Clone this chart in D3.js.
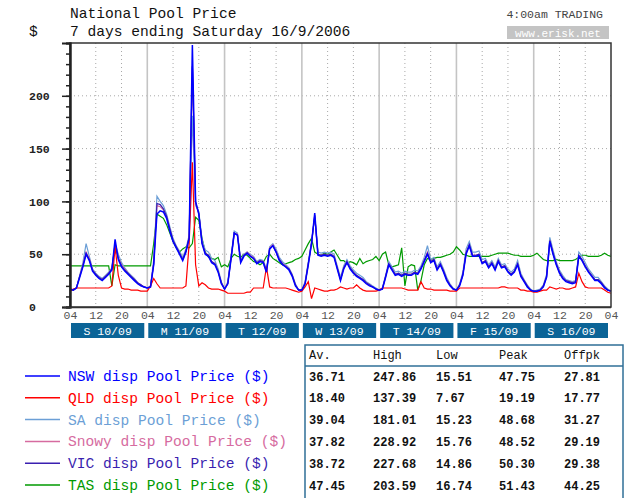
<!DOCTYPE html>
<html>
<head>
<meta charset="utf-8">
<script src="https://cdnjs.cloudflare.com/ajax/libs/d3/7.8.5/d3.min.js"></script>
<style>
  html, body { margin: 0; padding: 0; background: #fff; }
  svg { display: block; font-family: "Liberation Mono", "DejaVu Sans Mono", monospace; }
</style>
</head>
<body>
<svg id="chart" width="625" height="498"></svg>
<script>
// hourly prices, Sun 10/09/2006 04:00 .. Sun 17/09/2006 04:00 (169 points)
const nsw = [
  17,16,18,28,38,50,44,34,30,27,25,28,31,35,64,45,38,34,31,28,25,22,20,19,
  18,19,40,88,91,90,84,72,62,56,50,44,52,65,248,100,88,60,50,48,42,40,33,22,
  17,22,45,70,68,42,48,51,48,46,41,43,42,33,55,58,52,44,40,38,35,29,20,16,
  16,22,40,60,89,49,48,49,48,49,47,36,25,36,42,36,32,29,27,25,22,20,19,17,
  16,17,28,40,35,30,31,29,31,30,30,32,31,36,43,50,42,44,35,40,33,25,20,17,
  16,20,30,50,58,48,48,49,41,43,37,41,35,43,37,38,33,30,33,40,29,24,19,16,
  15,15,16,19,28,62,50,40,32,27,24,23,22,23,48,44,38,33,29,25,25,22,18,16,15
]
const qld = [
  15,17,18,18,18,18,18,18,18,18,18,18,18,20,57,30,18,17,17,16,16,16,15,15,
  15,20,27,22,18,18,18,18,18,18,18,18,20,60,137,40,20,23,21,18,17,17,17,16,
  15,13,13,13,13,13,13,14,14,18,18,18,18,38,19,18,18,18,18,18,17,16,15,14,
  15,19,24,8,18,17,16,15,15,16,16,17,19,18,17,18,18,21,18,16,15,15,15,15,
  16,18,18,18,18,18,18,18,17,16,16,16,16,24,18,17,17,16,16,16,16,16,15,15,
  15,18,18,18,18,18,18,18,18,18,18,18,18,18,19,19,18,18,18,18,16,16,15,15,
  14,14,15,16,16,19,18,17,18,18,17,17,18,19,32,24,19,18,18,18,18,18,16,14,13
]
const sa = [
  17,16,18,30,42,60,48,36,32,29,27,30,33,37,60,50,42,37,33,30,27,23,21,19,
  18,20,45,105,100,96,88,76,65,58,53,47,55,68,181,96,90,64,54,52,46,44,36,24,
  17,24,48,72,70,45,50,52,50,48,43,45,44,36,57,60,55,47,43,40,37,31,22,16,
  16,24,43,62,85,52,51,52,51,52,50,39,28,39,45,39,35,32,30,28,24,22,20,18,
  16,18,30,43,38,33,34,32,34,33,33,35,34,39,47,58,45,47,38,43,36,28,22,18,
  16,22,33,55,62,52,52,53,45,46,40,44,38,46,40,41,36,33,36,44,32,26,21,17,
  15,16,17,21,31,66,54,43,35,30,26,25,24,25,52,48,42,36,32,28,28,24,20,17,15
]
const snowy = [
  17,16,18,29,40,52,46,35,31,28,26,29,32,36,60,47,40,36,32,29,26,23,21,19,
  18,19,42,96,95,92,86,74,63,57,51,45,53,66,228,98,88,61,51,49,43,41,34,23,
  17,23,46,70,69,43,49,52,49,47,42,44,43,34,56,59,53,45,41,39,36,30,21,16,
  16,23,41,61,86,50,49,50,49,50,48,37,26,37,43,37,33,30,28,26,23,21,19,17,
  16,17,29,41,36,31,32,30,32,31,31,33,32,37,44,52,43,45,36,41,34,26,21,17,
  16,21,31,52,59,49,49,50,42,44,38,42,36,44,38,39,34,31,34,41,30,25,20,16,
  15,15,16,20,29,63,51,41,33,28,25,24,23,24,49,45,39,34,30,26,26,23,19,16,15
]
const vic = [
  17,16,18,29,39,51,45,35,31,28,26,29,32,36,58,46,39,35,32,29,26,23,21,19,
  18,19,41,98,97,93,86,74,63,57,51,45,53,66,228,99,89,61,51,49,43,41,34,23,
  17,22,46,70,68,43,49,51,48,46,42,44,43,34,55,58,52,45,41,38,36,30,21,16,
  16,22,41,60,87,50,49,50,49,50,48,37,26,37,43,37,33,30,28,26,23,21,19,17,
  16,17,29,41,36,31,32,30,32,31,31,33,32,37,44,51,43,45,36,41,34,26,21,17,
  16,21,31,51,59,49,49,50,42,44,38,42,36,44,38,39,34,31,34,41,30,25,20,16,
  15,15,16,20,29,63,51,41,33,28,25,24,23,24,49,45,39,34,30,26,26,23,19,16,15
]
const tas = [
  39,39,39,39,39,39,39,39,39,39,39,39,39,20,40,39,39,39,39,39,39,39,39,39,
  39,39,60,88,86,84,78,70,62,56,52,55,57,56,60,85,82,65,52,47,46,45,47,38,
  40,38,46,50,48,47,50,49,46,43,42,40,42,48,50,46,44,42,40,41,42,43,45,46,
  48,54,60,65,52,50,49,51,50,52,54,49,44,44,41,43,42,40,46,41,43,44,45,48,
  44,50,52,40,38,39,40,56,20,38,40,39,16,25,40,46,45,46,47,47,48,49,50,52,
  57,54,50,49,48,48,48,48,48,48,48,49,50,51,51,51,51,50,49,49,48,48,48,48,
  49,51,48,45,44,44,44,45,44,44,44,44,44,45,47,49,49,48,48,48,48,49,51,49,48
]

const dayLabels = ['S 10/09', 'M 11/09', 'T 12/09', 'W 13/09', 'T 14/09', 'F 15/09', 'S 16/09']
const legendNames = ['NSW disp Pool Price ($)', 'QLD disp Pool Price ($)', 'SA disp Pool Price ($)',
  'Snowy disp Pool Price ($)', 'VIC disp Pool Price ($)', 'TAS disp Pool Price ($)']
const tableHeads = ['Av.', 'High', 'Low', 'Peak', 'Offpk']
const statAv = ['36.71', '18.40', '39.04', '37.82', '38.72', '47.45']
const statHigh = ['247.86', '137.39', '181.01', '228.92', '227.68', '203.59']
const statLow = ['15.51', '7.67', '15.23', '15.76', '14.86', '16.74']
const statPeak = ['47.75', '19.19', '48.68', '48.52', '50.30', '51.43']
const statOff = ['27.81', '17.77', '31.27', '29.19', '29.38', '44.25']

const colors = ['#0000ff', '#ff0000', '#6c9fd6', '#d66ba0', '#3a1fb0', '#009a00']
const seriesData = [nsw, qld, sa, snowy, vic, tas]

const start = new Date(2006, 8, 10, 4)
const end = new Date(2006, 8, 17, 4)
const hour = 3600 * 1000

const svg = d3.select('#chart')
const plot = { left: 70, right: 611, top: 43, bottom: 307 }

const x = d3.scaleTime().domain([start, end]).range([plot.left, plot.right])
const y = d3.scaleLinear().domain([0, 250]).range([plot.bottom, plot.top])

// titles
svg.append('text').attr('x', 70).attr('y', 18).attr('font-size', 14.6).attr('fill', '#111')
  .text('National Pool Price')
svg.append('text').attr('x', 70).attr('y', 36).attr('font-size', 14.6).attr('fill', '#111')
  .text('7 days ending Saturday 16/9/2006')
svg.append('text').attr('x', 29).attr('y', 36).attr('font-size', 14.6).attr('fill', '#111').text('$')
svg.append('text').attr('x', 603).attr('y', 18).attr('font-size', 11.5).attr('text-anchor', 'end')
  .attr('fill', '#444').text('4:00am TRADING')
svg.append('rect').attr('x', 507).attr('y', 26).attr('width', 102).attr('height', 13).attr('fill', '#c4c4c4')
svg.append('text').attr('x', 558).attr('y', 36.5).attr('font-size', 11).attr('text-anchor', 'middle')
  .attr('fill', '#fff').text('www.erisk.net')

// grid
const hourTicks = d3.range(0, 169, 8).map(h => new Date(start.getTime() + h * hour))
const grid = svg.append('g')
grid.selectAll('.hgrid').data([50, 100, 150, 200]).join('line')
  .attr('x1', plot.left).attr('x2', plot.right)
  .attr('y1', d => y(d)).attr('y2', d => y(d))
  .attr('stroke', '#a8a8a8').attr('stroke-dasharray', '1,3')
grid.selectAll('.vgrid').data(hourTicks.filter((d, i) => i > 0 && i < 21)).join('line')
  .attr('x1', d => x(d)).attr('x2', d => x(d))
  .attr('y1', plot.top).attr('y2', plot.bottom)
  .attr('stroke', (d, i) => (i + 1) % 3 === 0 ? '#c4c4c4' : '#a8a8a8')
  .attr('stroke-width', (d, i) => (i + 1) % 3 === 0 ? 1.6 : 1)
  .attr('stroke-dasharray', (d, i) => (i + 1) % 3 === 0 ? null : '1,3')

// series lines
const line = d3.line()
  .x((d, i) => x(new Date(start.getTime() + i * hour)))
  .y(d => y(d))
const order = [5, 2, 3, 4, 1, 0]
order.forEach(k => {
  svg.append('path').datum(seriesData[k])
    .attr('fill', 'none')
    .attr('stroke', colors[k])
    .attr('stroke-width', k === 0 ? 1.5 : 1.2)
    .attr('d', line)
})

// frame
svg.append('rect').attr('x', plot.left).attr('y', plot.top)
  .attr('width', plot.right - plot.left).attr('height', plot.bottom - plot.top)
  .attr('fill', 'none').attr('stroke', '#333').attr('stroke-width', 1.5)

// y axis
const yMinor = svg.append('g').attr('transform', `translate(${plot.left},0)`)
  .call(d3.axisLeft(y).tickValues(d3.range(0, 251, 10)).tickSize(4).tickFormat(''))
const yMajor = svg.append('g').attr('transform', `translate(${plot.left},0)`)
  .call(d3.axisLeft(y).tickValues([0, 50, 100, 150, 200]).tickSize(8).tickPadding(0))
;[yMinor, yMajor].forEach(g => {
  g.select('.domain').attr('stroke', '#222').attr('stroke-width', 2)
  g.selectAll('.tick line').attr('stroke', '#222').attr('stroke-width', 1.5)
})
yMajor.selectAll('text').attr('x', 29 - plot.left).attr('text-anchor', 'start')
  .attr('font-family', '"Liberation Mono", monospace').attr('font-size', 11.5)
  .attr('font-weight', 'bold').attr('fill', '#222')

// x axis labels
const xAxis = svg.append('g').attr('transform', `translate(0,${plot.bottom})`)
  .call(d3.axisBottom(x).tickValues(hourTicks).tickFormat(d3.timeFormat('%H')).tickSize(0).tickPadding(4))
xAxis.select('.domain').attr('stroke', '#333').attr('stroke-width', 1.5).attr('d', `M${plot.left - 6},0.5H${plot.right}`)
xAxis.selectAll('text').attr('font-family', '"Liberation Mono", monospace')
  .attr('font-size', 11.5).attr('fill', '#555')

// day boxes
const dayStarts = d3.range(7).map(i => new Date(start.getTime() + i * 24 * hour))
const days = svg.selectAll('.day').data(dayLabels).join('g')
days.append('rect')
  .attr('x', (d, i) => x(dayStarts[i]) + 1)
  .attr('y', 323)
  .attr('width', (d, i) => x(new Date(dayStarts[i].getTime() + 24 * hour)) - x(dayStarts[i]) - 4)
  .attr('height', 15)
  .attr('fill', '#0b6497')
days.append('text')
  .attr('x', (d, i) => (x(dayStarts[i]) + x(new Date(dayStarts[i].getTime() + 24 * hour))) / 2 - 1)
  .attr('y', 334.5)
  .attr('text-anchor', 'middle').attr('font-size', 11.5).attr('fill', '#fff')
  .text(d => d)

// legend
const rowY = i => 376 + i * 21.8
const legend = svg.selectAll('.leg').data(legendNames).join('g')
legend.append('line')
  .attr('x1', 25).attr('x2', 60)
  .attr('y1', (d, i) => rowY(i)).attr('y2', (d, i) => rowY(i))
  .attr('stroke', (d, i) => colors[i]).attr('stroke-width', 1.5)
legend.append('text')
  .attr('x', 68).attr('y', (d, i) => rowY(i) + 5)
  .attr('font-size', 14.6).attr('fill', (d, i) => colors[i])
  .text(d => d)

// stats table
svg.append('rect').attr('x', 305).attr('y', 345).attr('width', 318).attr('height', 170)
  .attr('fill', 'none').attr('stroke', '#2f6f97').attr('stroke-width', 1.5)
svg.append('line').attr('x1', 305).attr('x2', 623).attr('y1', 366).attr('y2', 366)
  .attr('stroke', '#2f6f97').attr('stroke-width', 1.5)
const colX = [309, 373, 436, 499, 564]
svg.selectAll('.head').data(tableHeads).join('text')
  .attr('x', (d, i) => colX[i]).attr('y', 359)
  .attr('font-size', 12).attr('fill', '#111').text(d => d)
const cols = [statAv, statHigh, statLow, statPeak, statOff]
cols.forEach((col, c) => {
  svg.selectAll('.c' + c).data(col).join('text')
    .attr('x', colX[c]).attr('y', (d, i) => rowY(i) + 4.5)
    .attr('font-size', 12).attr('font-weight', 'bold').attr('fill', '#111')
    .text(d => d)
})
</script>
</body>
</html>
